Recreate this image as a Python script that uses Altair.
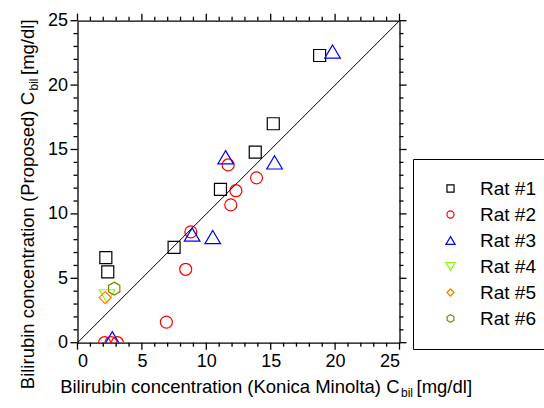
import altair as alt
import pandas as pd

# ---------------- data ----------------
rats = ["Rat #1", "Rat #2", "Rat #3", "Rat #4", "Rat #5", "Rat #6"]

rat1_x = [2.2, 2.35, 7.5, 11.1, 13.8, 15.2, 18.8]
rat1_y = [6.6, 5.5, 7.4, 11.9, 14.8, 17.0, 22.3]
rat2_x = [2.1, 2.6, 3.1, 6.9, 8.4, 8.8, 11.7, 11.9, 12.3, 13.9]
rat2_y = [0.0, 0.0, 0.0, 1.6, 5.7, 8.6, 13.8, 10.7, 11.8, 12.8]
rat3_x = [2.7, 8.9, 10.5, 11.5, 15.3, 19.8]
rat3_y = [0.35, 8.4, 8.2, 14.4, 14.0, 22.6]
rat4_x = [2.3]
rat4_y = [3.6]
rat5_x = [2.15]
rat5_y = [3.5]
rat6_x = [2.85]
rat6_y = [4.2]

diag_x = [0, 25]
diag_y = [0, 25]
major_ticks = [0, 5, 10, 15, 20, 25]
minor_ticks = [v for v in range(0, 26) if v % 5 != 0]

x_title_parts = ["Bilirubin concentration (Konica Minolta) C", "bil", "[mg/dl]"]
y_title_parts = ["Bilirubin concentration (Proposed) C", "bil", "[mg/dl]"]

colors = ["#000000", "#FF0000", "#0000FF", "#80FF00", "#FF8000", "#808000"]
TRI_UP = "M0,-1.1L1.3,1.1L-1.3,1.1Z"
TRI_DOWN = "M0,1.1L1.3,-1.1L-1.3,-1.1Z"
HEX = "M0,-1.08L0.94,-0.54L0.94,0.54L0,1.08L-0.94,0.54L-0.94,-0.54Z"
shapes = ["square", "circle", TRI_UP, TRI_DOWN, "diamond", HEX]

rows = []
for name, xs, ys in zip(
    rats,
    [rat1_x, rat2_x, rat3_x, rat4_x, rat5_x, rat6_x],
    [rat1_y, rat2_y, rat3_y, rat4_y, rat5_y, rat6_y],
):
    for xv, yv in zip(xs, ys):
        rows.append({"rat": name, "x": xv, "y": yv})
df = pd.DataFrame(rows)
diag_df = pd.DataFrame({"x": diag_x, "y": diag_y})
major_df = pd.DataFrame({"v": major_ticks})
minor_df = pd.DataFrame({"v": minor_ticks})

# ---------------- styling ----------------
FONT = "Liberation Sans"
W = 322
H = 322
scale = alt.Scale(domain=[0, 25], nice=False, zero=False)

axis_lab = dict(
    values=major_ticks, tickSize=7, tickOpacity=0, domainColor="black",
    domainWidth=1.3, grid=False, title=None,
    labelFont=FONT, labelFontSize=18, labelColor="black", labelOverlap=False,
    labelPadding=3,
)
axis_nolab = dict(
    values=major_ticks, ticks=False, domainColor="black",
    domainWidth=1.3, grid=False, title=None, labels=False,
)

legend = alt.Legend(
    title=None, orient="none", legendX=335.5, legendY=138.3,
    strokeColor="black", fillColor="white", padding=20, symbolOffset=8,
    labelOffset=20, symbolSize=50, symbolStrokeWidth=1.2, labelFont=FONT,
    labelFontSize=19, labelColor="black", rowPadding=6,
)

points = alt.Chart(df).mark_point(
    filled=False, size=144, strokeWidth=1.2, clip=True, opacity=1
).encode(
    x=alt.X("x:Q", scale=scale, axis=alt.Axis(orient="bottom", **axis_lab)),
    y=alt.Y("y:Q", scale=scale, axis=alt.Axis(orient="left", **axis_lab)),
    color=alt.Color("rat:N", scale=alt.Scale(domain=rats, range=colors), legend=legend),
    shape=alt.Shape("rat:N", scale=alt.Scale(domain=rats, range=shapes), legend=legend),
)

diag = alt.Chart(diag_df).mark_line(color="black", strokeWidth=1, clip=True).encode(
    x=alt.X("x:Q", scale=scale, axis=alt.Axis(orient="top", **axis_nolab)),
    y=alt.Y("y:Q", scale=scale, axis=alt.Axis(orient="right", **axis_nolab)),
)


def tick_layers(data, size):
    base = alt.Chart(data).mark_rule(color="black", strokeWidth=1.3)
    return [
        base.encode(x=alt.X("v:Q", scale=scale, axis=None),
                    y=alt.value(H), y2=alt.value(H + size)),
        base.encode(x=alt.X("v:Q", scale=scale, axis=None),
                    y=alt.value(0), y2=alt.value(-size)),
        base.encode(y=alt.Y("v:Q", scale=scale, axis=None),
                    x=alt.value(0), x2=alt.value(-size)),
        base.encode(y=alt.Y("v:Q", scale=scale, axis=None),
                    x=alt.value(W), x2=alt.value(W + size)),
    ]


ticks = tick_layers(major_df, 7) + tick_layers(minor_df, 4)


def txt(s, x, y, size, align, angle=0, dy=0):
    return alt.Chart(pd.DataFrame({"t": [s]})).mark_text(
        align=align, baseline="alphabetic", font=FONT, fontSize=size,
        angle=angle, dy=dy, color="black"
    ).encode(x=alt.value(x), y=alt.value(y), text="t:N")


# plot-area origin is at (77.5, 20.7) on the page
XB = 372.0  # x-title baseline (plot coords)
XE = 322.0  # end of first x-title part (plot coords)
texts = [
    txt(x_title_parts[0], XE, XB, 18.5, "right"),
    txt(x_title_parts[1], XE + 1.5, XB, 12, "left", dy=4),
    txt(x_title_parts[2], XE + 17, XB, 18.5, "left"),
]
YB = -44  # y-title baseline (plot coords)
YE = 71.3
texts += [
    txt(y_title_parts[0], YB, YE, 18.5, "right", angle=270),
    txt(y_title_parts[1], YB, YE - 1.5, 12, "left", angle=270, dy=4),
    txt(y_title_parts[2], YB, YE - 17, 18.5, "left", angle=270),
]

chart = alt.layer(points, diag, *ticks, *texts).resolve_axis(
    x="independent", y="independent"
).properties(
    width=W, height=H,
    padding={"left": 77.5, "top": 20.7, "right": 144.5, "bottom": 65.3},
    autosize="none",
).configure_view(stroke=None)

chart.save("out.html", embed_options={"renderer": "svg", "actions": False})
